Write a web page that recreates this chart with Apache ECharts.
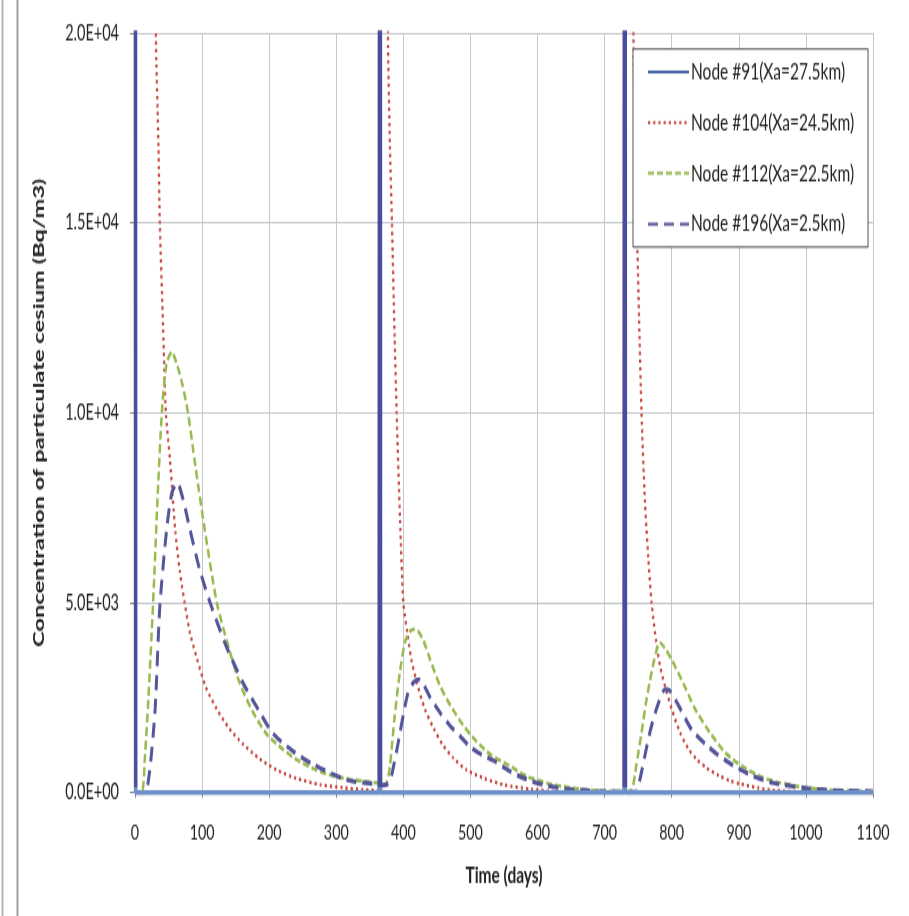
<!DOCTYPE html>
<html>
<head>
<meta charset="utf-8">
<script src="https://cdn.jsdelivr.net/npm/echarts@6/dist/echarts.min.js"></script>
<style>
html,body{margin:0;padding:0;background:#fff;overflow:hidden;width:909px;height:916px;}
#chart{width:909px;height:611px;transform:scaleY(1.49918);transform-origin:0 0;}
</style>
</head>
<body>
<div id="chart"></div>
<script>
// ---- data (day, concentration Bq/m3) ----
const seriesNames = ['Node #91(Xa=27.5km)', 'Node #104(Xa=24.5km)', 'Node #112(Xa=22.5km)', 'Node #196(Xa=2.5km)'];
const yTickLabels = ['0.0E+00', '5.0E+03', '1.0E+04', '1.5E+04', '2.0E+04'];

const node91 = [
  [0, 60000], [1, 0], [364, 0], [365, 60000], [366, 0], [729, 0], [730, 60000], [731, 0], [1100, 0]
];

const node104 = [
  [0, 60000], [31, 20000], [35, 17000], [37, 15000], [42, 12200], [46, 10000], [52, 8800], [60, 6900],
  [67, 5800], [74, 5000], [82, 4200], [92, 3550], [105, 2800], [122, 2200], [140, 1700], [161, 1280],
  [185, 900], [211, 600], [240, 380], [276, 210], [310, 130], [340, 80], [364, 50],
  [366, 60000], [377, 20000], [380, 17000], [383, 15000], [387, 12000], [390, 10000], [395, 7200],
  [400, 5000], [406, 4200], [412, 3500], [420, 2900], [432, 2200], [445, 1700], [459, 1250], [475, 900],
  [494, 600], [520, 380], [549, 210], [590, 90], [633, 20], [700, 5], [729, 0],
  [731, 60000], [743, 20000], [748, 15000], [755, 10000], [760, 7700], [765, 6200], [770, 5000],
  [777, 3950], [783, 3300], [790, 2800], [800, 2200], [812, 1600], [825, 1150], [837, 880], [852, 650],
  [870, 450], [887, 310], [902, 230], [930, 120], [951, 60], [1000, 20], [1100, 5]
];

const node112 = [
  [0, 0], [10, 0], [15, 1000], [20, 2500], [27, 5000], [33, 7500], [40, 10000], [47, 11300], [55, 11600],
  [62, 11300], [70, 10800], [79, 10000], [90, 8600], [104, 6920], [122, 5000], [140, 3800], [156, 2890],
  [175, 2150], [196, 1550], [220, 1150], [241, 870], [270, 600], [301, 420], [330, 320], [365, 250],
  [372, 220], [376, 300], [380, 700], [387, 2000], [395, 3200], [403, 4000], [410, 4250], [416, 4300],
  [422, 4250], [430, 4000], [440, 3500], [455, 2800], [470, 2300], [490, 1750], [509, 1350], [530, 1000],
  [559, 700], [585, 420], [614, 250], [650, 120], [683, 60], [730, 20],
  [740, 50], [747, 700], [755, 1580], [761, 2300], [767, 2900], [774, 3500], [782, 3950], [790, 3800],
  [800, 3500], [817, 2890], [835, 2200], [857, 1580], [880, 1050], [906, 680], [935, 400], [961, 260],
  [1000, 130], [1040, 60], [1100, 30]
];

const node196 = [
  [0, 0], [15, 0], [22, 600], [30, 2200], [37, 4900], [47, 6900], [55, 7900], [63, 8150], [72, 7700],
  [82, 6920], [96, 5900], [112, 5000], [135, 3900], [161, 2890], [185, 2150], [206, 1550], [235, 1100],
  [266, 740], [315, 340], [365, 210],
  [370, 200], [378, 250], [383, 500], [390, 1100], [395, 1580], [400, 2050], [407, 2630], [415, 2900],
  [423, 2980], [430, 2850], [440, 2500], [455, 2100], [470, 1750], [484, 1500], [500, 1200], [517, 1000],
  [534, 850], [560, 550], [584, 350], [610, 200], [643, 100], [690, 40], [730, 15],
  [748, 30], [752, 300], [758, 800], [765, 1400], [772, 1900], [782, 2450], [790, 2720], [796, 2700],
  [810, 2300], [830, 1650], [850, 1280], [867, 1020], [891, 720], [920, 450], [951, 260], [1000, 120],
  [1040, 60], [1100, 30]
];

// ---- chart ----
const H = 611; // drawing height before vertical stretch
const chart = echarts.init(document.getElementById('chart'), null, { renderer: 'canvas', width: 909, height: H });
const font = "Lato, 'Open Sans', sans-serif";
const gridColor = '#c4c6cc';
const gridBottomY = H - 82.3;

const spikeColor = new echarts.graphic.LinearGradient(0, 0, 0, H, [
  { offset: 0, color: '#4A4C9C' },
  { offset: (gridBottomY - 4) / H, color: '#4A4C9C' },
  { offset: (gridBottomY - 3.4) / H, color: '#6F90C6' },
  { offset: 1, color: '#6F90C6' }
], true);

const option = {
  backgroundColor: '#ffffff',
  animation: false,
  graphic: [
    { type: 'line', shape: { x1: 2.5, y1: 0, x2: 2.5, y2: H }, style: { stroke: '#b4b4b4', lineWidth: 2 } },
    { type: 'line', shape: { x1: 17.5, y1: 0, x2: 17.5, y2: H }, style: { stroke: '#a0a0a0', lineWidth: 2 } }
  ],
  grid: { left: 135, right: 36, top: 22, bottom: 82.3, containLabel: false },
  legend: {
    orient: 'vertical',
    left: 633,
    top: 32.7,
    backgroundColor: '#ffffff',
    borderColor: '#505050',
    borderWidth: 1,
    padding: [7.3, 14, 7.4, 14],
    itemWidth: 41,
    itemHeight: 10,
    itemGap: 17.8,
    itemStyle: { opacity: 0 },
    textStyle: { fontFamily: font, fontSize: 15.5, color: '#222', lineHeight: 16, padding: [0, 0, 0, -3] },
    data: [
      { name: seriesNames[0], lineStyle: { color: '#4A6AAE' } },
      { name: seriesNames[1] },
      { name: seriesNames[2] },
      { name: seriesNames[3] }
    ]
  },
  xAxis: {
    type: 'value',
    min: 0,
    max: 1100,
    interval: 100,
    name: 'Time (days)',
    nameLocation: 'middle',
    nameGap: 47,
    nameTextStyle: { fontFamily: font, fontSize: 15.5, fontWeight: 'bold', color: '#222' },
    axisLine: { show: true, lineStyle: { color: '#8a8a8a', width: 1 } },
    axisTick: { show: true, inside: false, length: 3.5, lineStyle: { color: '#8a8a8a' } },
    axisLabel: { fontFamily: font, fontSize: 14.3, color: '#222', margin: 19.5, formatter: function (v) { return String(v); } },
    splitLine: { show: true, lineStyle: { color: gridColor, width: 1 } }
  },
  yAxis: {
    type: 'value',
    min: 0,
    max: 20000,
    interval: 5000,
    name: 'Concentration of particulate cesium (Bq/m3)',
    nameLocation: 'middle',
    nameGap: 88,
    nameTextStyle: { fontFamily: font, fontSize: 15.8, fontWeight: 'bold', color: '#222' },
    axisLine: { show: true, lineStyle: { color: '#8a8a8a', width: 1 } },
    axisTick: { show: true, inside: false, length: 5, lineStyle: { color: '#8a8a8a' } },
    axisLabel: {
      fontFamily: font, fontSize: 14.5, color: '#222', margin: 16,
      formatter: function (v) { return yTickLabels[Math.round(v / 5000)]; }
    },
    splitLine: { show: true, lineStyle: { color: gridColor, width: 1 } }
  },
  series: [
    {
      name: seriesNames[1], type: 'line', data: node104, symbol: 'none', smooth: 0.25,
      color: '#C8463F',
      lineStyle: { color: '#C8463F', width: 2.3, type: [2.2, 3] }
    },
    {
      name: seriesNames[2], type: 'line', data: node112, symbol: 'none', smooth: 0.25,
      color: '#98BA4E',
      lineStyle: { color: '#98BA4E', width: 2.5, type: [6, 3] }
    },
    {
      name: seriesNames[3], type: 'line', data: node196, symbol: 'none', smooth: 0.25,
      color: '#55569A',
      lineStyle: { color: '#55569A', width: 3, type: [10, 6] }
    },
    {
      name: seriesNames[0], type: 'line', data: node91, symbol: 'none',
      color: '#4A6AAE',
      lineStyle: { color: spikeColor, width: 3.6 }
    }
  ]
};
chart.setOption(option);
</script>
</body>
</html>
